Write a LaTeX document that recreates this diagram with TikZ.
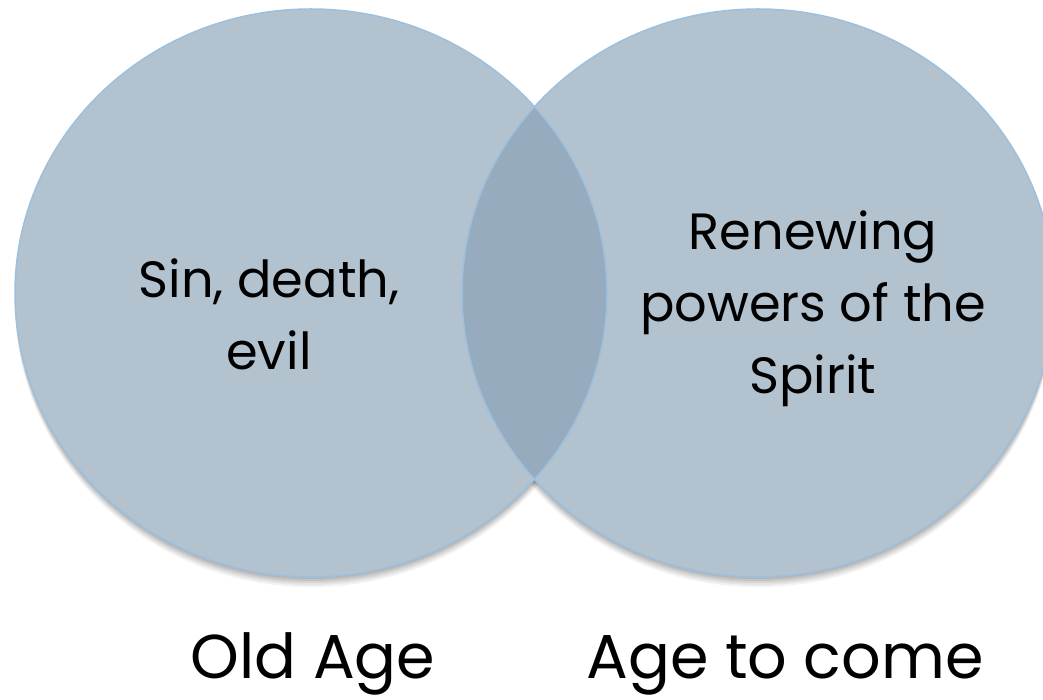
\documentclass[tikz,border=0pt]{standalone}
\usepackage{fontspec}
\setmainfont{Poppins}
\definecolor{fillc}{RGB}{178,194,207}
\definecolor{lensc}{RGB}{150,171,189}
\definecolor{edgec}{RGB}{156,192,221}
\begin{document}
\begin{tikzpicture}[x=1pt,y=-1pt,
  bodytext/.style={font=\fontsize{51}{72}\selectfont, align=center, inner sep=0pt, anchor=base},
  agetext/.style={font=\fontsize{62}{70}\selectfont, inner sep=0pt, anchor=base},
  rad/.style={x radius=296, y radius=284}]
\useasboundingbox (0,0) rectangle (1043,700);
\clip (0,0) rectangle (1043,700);
\coordinate (cl) at (311,293);
\coordinate (cr) at (758,293);
% soft shadow
\foreach \d/\o in {10/0.05,8/0.06,6/0.07,4/0.08,2/0.08}{
  \fill[black,opacity=\o] ([yshift=-\d pt]cl) ellipse [rad];
  \fill[black,opacity=\o] ([yshift=-\d pt]cr) ellipse [rad];
}
\fill[fillc] (cl) ellipse [rad];
\fill[fillc] (cr) ellipse [rad];
\begin{scope}
  \clip (cl) ellipse [rad];
  \fill[lensc] (cr) ellipse [rad];
\end{scope}
\draw[edgec, line width=1.5pt] (cl) ellipse [rad];
\draw[edgec, line width=1.5pt] (cr) ellipse [rad];
\node[bodytext] (sin) at (269,369) {Sin, death,\\evil};
\node[bodytext] (spirit) at (813,393) {Renewing\\powers of the\\Spirit};
\node[agetext] (old) at (313,678) {Old Age};
\node[agetext] (come) at (785,678) {Age to come};
\end{tikzpicture}
\end{document}
